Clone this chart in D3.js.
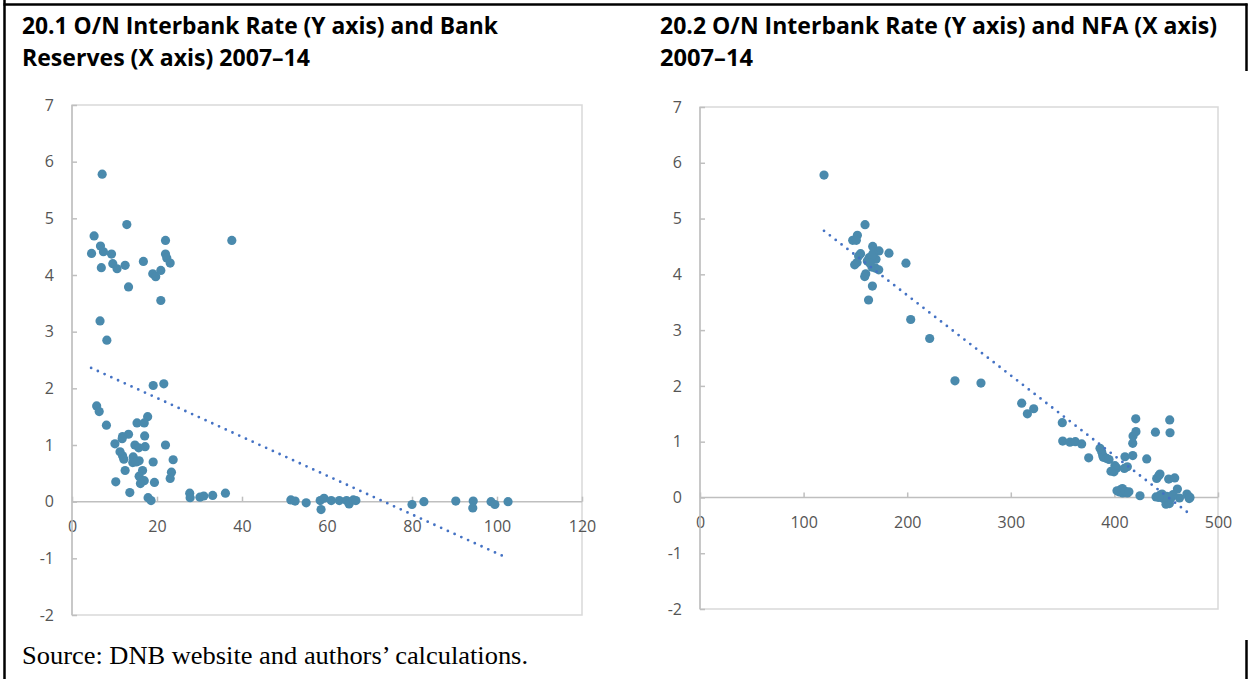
<!DOCTYPE html>
<html>
<head>
<meta charset="utf-8">
<script src="https://cdn.jsdelivr.net/npm/d3@7"></script>
<style>
  body { margin: 0; background: #fff; }
  svg { display: block; }
</style>
</head>
<body>
<div id="main"></div>
<script>
// 20.1: bank reserves (x) vs O/N rate (y)
let reservesX = [
    7.1, 12.9, 5.2, 6.7, 7.4, 4.6, 9.3, 9.6, 10.6, 6.9, 12.5, 16.8, 13.3, 22.0, 37.6, 22.0,
    22.3, 23.1, 19.0, 19.7, 20.9, 20.9, 6.6, 8.2,
    19.1, 21.6, 5.8, 6.4, 8.1, 17.8, 15.3, 17.0, 17.1, 13.3, 11.9, 11.8, 10.1, 14.8, 15.7, 17.2,
    22.0, 11.3, 11.9, 12.2, 14.4, 15.8, 14.3, 15.1, 23.8, 19.1, 12.5, 16.6, 23.4, 23.1, 15.8, 17.0,
    16.1, 10.3, 19.4, 13.6, 17.9, 18.6, 27.7, 27.8, 30.1, 31.0, 33.1, 36.1,
    51.5, 52.5, 55.1, 58.4, 58.6, 59.3, 61.0, 62.9, 64.6, 65.2, 66.2, 66.8,
    80.0, 82.8, 90.3, 94.4, 94.3, 98.6, 99.5, 102.6
];
let reservesRate = [
    5.78, 4.89, 4.69, 4.51, 4.41, 4.38, 4.37, 4.20, 4.11, 4.13, 4.17, 4.24, 3.79, 4.61, 4.61, 4.37,
    4.30, 4.21, 4.02, 3.97, 4.08, 3.55, 3.19, 2.85,
    2.05, 2.08, 1.69, 1.59, 1.35, 1.50, 1.39, 1.39, 1.16, 1.19, 1.15, 1.11, 1.02, 1.00, 0.95, 0.97,
    1.00, 0.88, 0.81, 0.75, 0.79, 0.72, 0.69, 0.70, 0.74, 0.70, 0.55, 0.55, 0.52, 0.41, 0.45, 0.37,
    0.32, 0.35, 0.34, 0.16, 0.07, 0.02, 0.15, 0.07, 0.08, 0.10, 0.11, 0.15,
    0.03, 0.01, -0.02, 0.02, -0.14, 0.06, 0.02, 0.02, 0.02, -0.04, 0.03, 0.02,
    -0.05, 0.00, 0.01, 0.01, -0.11, 0.00, -0.05, 0.00
];
let reservesTrendX = [4.5, 102.0];
let reservesTrendY = [2.36, -0.98];
let reservesXTicks = [0, 20, 40, 60, 80, 100, 120];

// 20.2: NFA (x) vs O/N rate (y)
let nfaX = [
    119.7, 159.3, 151.9, 147.4, 150.9, 166.7, 172.8, 182.4, 155.0, 153.1, 166.9, 163.4, 169.9,
    161.5, 151.6, 149.3, 198.8, 166.0, 169.6, 172.5, 160.0, 159.0, 166.4, 162.7, 166.0, 164.0,
    203.4, 221.7, 246.1, 271.2, 310.5, 316.0, 322.1,
    349.7, 350.1, 357.1, 362.3, 368.4, 375.2, 386.1, 387.7, 388.7, 389.3, 392.6, 394.8,
    399.6, 402.2, 410.2, 417.7, 409.6, 412.5, 431.2, 417.7, 418.0, 420.8, 420.6, 439.6,
    453.4, 453.7, 400.5, 396.7,
    405.4, 404.4, 408.0, 412.5, 407.7, 402.5, 410.5, 414.0, 424.7,
    440.8, 442.8, 444.0, 452.4, 458.2, 460.8, 440.2, 444.0, 447.2, 450.5, 449.8, 453.1,
    462.8, 471.5, 472.2, 454.3, 446.0, 448.0, 456.5, 470.0, 473.0, 443.0
];
let nfaRate = [
    5.78, 4.89, 4.70, 4.61, 4.61, 4.50, 4.42, 4.38, 4.37, 4.33, 4.37, 4.30, 4.27,
    4.24, 4.21, 4.17, 4.20, 4.13, 4.11, 4.08, 4.01, 3.96, 3.79, 3.54, 4.33, 4.20,
    3.19, 2.85, 2.09, 2.05, 1.69, 1.50, 1.59,
    1.34, 1.01, 0.99, 1.00, 0.96, 0.71, 0.88, 0.82, 0.76, 0.72, 0.70, 0.68,
    0.46, 0.53, 0.73, 0.75, 0.52, 0.55, 0.69, 0.97, 1.10, 1.18, 1.41, 1.17,
    1.39, 1.16, 0.57, 0.47,
    0.13, 0.10, 0.08, 0.08, 0.16, 0.12, 0.11, 0.10, 0.03,
    0.34, 0.39, 0.42, 0.33, 0.35, 0.15, 0.01, 0.04, -0.02, 0.02, -0.12, -0.11,
    -0.01, 0.02, -0.02, -0.02, 0.06, 0.00, 0.05, 0.06, 0.00, 0.00
];
let nfaTrendX = [119.7, 473.6];
let nfaTrendY = [4.78, -0.31];
let nfaXTicks = [0, 100, 200, 300, 400, 500];

let rateTicks = [-2, -1, 0, 1, 2, 3, 4, 5, 6, 7];

let svg = d3.select("#main")
    .append("svg")
    .attr("width", 1248)
    .attr("height", 679);

// outer frame lines
let frame = svg.append("g")
    .attr("stroke", "#000")
    .attr("stroke-width", 2.5)
    .attr("fill", "none");
frame.append("line").attr("x1", 4.5).attr("x2", 4.5).attr("y1", 0).attr("y2", 679);
frame.append("line").attr("x1", 3.5).attr("x2", 1247.5).attr("y1", 4.5).attr("y2", 4.5);
frame.append("line").attr("x1", 1246.5).attr("x2", 1246.5).attr("y1", 3.5).attr("y2", 71);
frame.append("line").attr("x1", 1246.5).attr("x2", 1246.5).attr("y1", 640).attr("y2", 679);

function drawTitle(lines, x) {
    lines.forEach(function(l, i) {
        svg.append("text")
            .attr("x", x)
            .attr("y", 34 + i * 32)
            .attr("font-family", "'Open Sans', sans-serif")
            .attr("font-weight", "bold")
            .attr("font-size", "23px")
            .attr("fill", "#000")
            .attr("textLength", l.w)
            .attr("lengthAdjust", "spacingAndGlyphs")
            .text(l.t);
    });
}

drawTitle([
    {t: "20.1 O/N Interbank Rate (Y axis) and Bank", w: 476},
    {t: "Reserves (X axis) 2007\u201314", w: 288}
], 22);
drawTitle([
    {t: "20.2 O/N Interbank Rate (Y axis) and NFA (X axis)", w: 557},
    {t: "2007\u201314", w: 93}
], 660);

svg.append("text")
    .attr("x", 22)
    .attr("y", 664)
    .attr("font-family", "'Liberation Serif', 'Times New Roman', serif")
    .attr("font-size", "25px")
    .attr("fill", "#000")
    .attr("textLength", 506)
    .attr("lengthAdjust", "spacingAndGlyphs")
    .text("Source: DNB website and authors\u2019 calculations.");

function drawScatter(cfg) {
    let x = d3.scaleLinear().domain(cfg.xDomain).range([cfg.left, cfg.right]);
    let y = d3.scaleLinear().domain([-2, 7]).range([cfg.bottom, cfg.top]);
    let g = svg.append("g");
    let plain = function(d) { return String(d); };

    // plot area border
    g.append("rect")
        .attr("x", cfg.left)
        .attr("y", cfg.top)
        .attr("width", cfg.right - cfg.left)
        .attr("height", cfg.bottom - cfg.top)
        .attr("fill", "none")
        .attr("stroke", "#d9d9d9")
        .attr("stroke-width", 1.5);

    // y axis (ticks point inward)
    let yAxis = g.append("g")
        .attr("transform", "translate(" + x(0) + ",0)")
        .call(d3.axisLeft(y).tickValues(rateTicks).tickFormat(plain)
            .tickSizeInner(-5).tickSizeOuter(0).tickPadding(18));
    yAxis.select(".domain").remove();

    let xAxis = g.append("g")
        .attr("transform", "translate(0," + y(0) + ")")
        .call(d3.axisBottom(x).tickValues(cfg.xTicks).tickFormat(plain)
            .tickSizeInner(-5).tickSizeOuter(0).tickPadding(19));
    xAxis.select(".domain").remove();

    [yAxis, xAxis].forEach(function(a) {
        a.attr("font-size", null).attr("font-family", null);
        a.selectAll("line").attr("stroke", "#bfbfbf").attr("stroke-width", 1.5);
        a.selectAll("text")
            .attr("fill", "#555")
            .style("font-family", "'Open Sans', sans-serif")
            .style("font-size", "16px");
    });

    // axis lines
    g.append("line")
        .attr("x1", x(0)).attr("x2", x(0))
        .attr("y1", cfg.top).attr("y2", cfg.bottom)
        .attr("stroke", "#bfbfbf").attr("stroke-width", 1.5);
    g.append("line")
        .attr("x1", cfg.left).attr("x2", cfg.right)
        .attr("y1", y(0)).attr("y2", y(0))
        .attr("stroke", "#bfbfbf").attr("stroke-width", 1.5);

    let pts = cfg.xs.map(function(v, i) { return [v, cfg.ys[i]]; });
    g.selectAll(".pt")
        .data(pts)
        .enter().append("circle")
        .attr("class", "pt")
        .attr("cx", function(d) { return x(d[0]); })
        .attr("cy", function(d) { return y(d[1]); })
        .attr("r", 4.6)
        .attr("fill", "#4a8aad");

    // linear trendline, dotted
    let trend = cfg.trendX.map(function(v, i) { return [v, cfg.trendY[i]]; });
    g.append("path")
        .datum(trend)
        .attr("d", d3.line().x(function(d) { return x(d[0]); }).y(function(d) { return y(d[1]); }))
        .attr("fill", "none")
        .attr("stroke", "#4472c4")
        .attr("stroke-width", 2.8)
        .attr("stroke-linecap", "round")
        .attr("stroke-dasharray", "0 7.4");
}

drawScatter({
    xs: reservesX, ys: reservesRate,
    trendX: reservesTrendX, trendY: reservesTrendY,
    xDomain: [0, 120], xTicks: reservesXTicks,
    left: 72, right: 582, top: 105, bottom: 615
});

drawScatter({
    xs: nfaX, ys: nfaRate,
    trendX: nfaTrendX, trendY: nfaTrendY,
    xDomain: [0, 500], xTicks: nfaXTicks,
    left: 700, right: 1218, top: 107, bottom: 609
});
</script>
</body>
</html>
